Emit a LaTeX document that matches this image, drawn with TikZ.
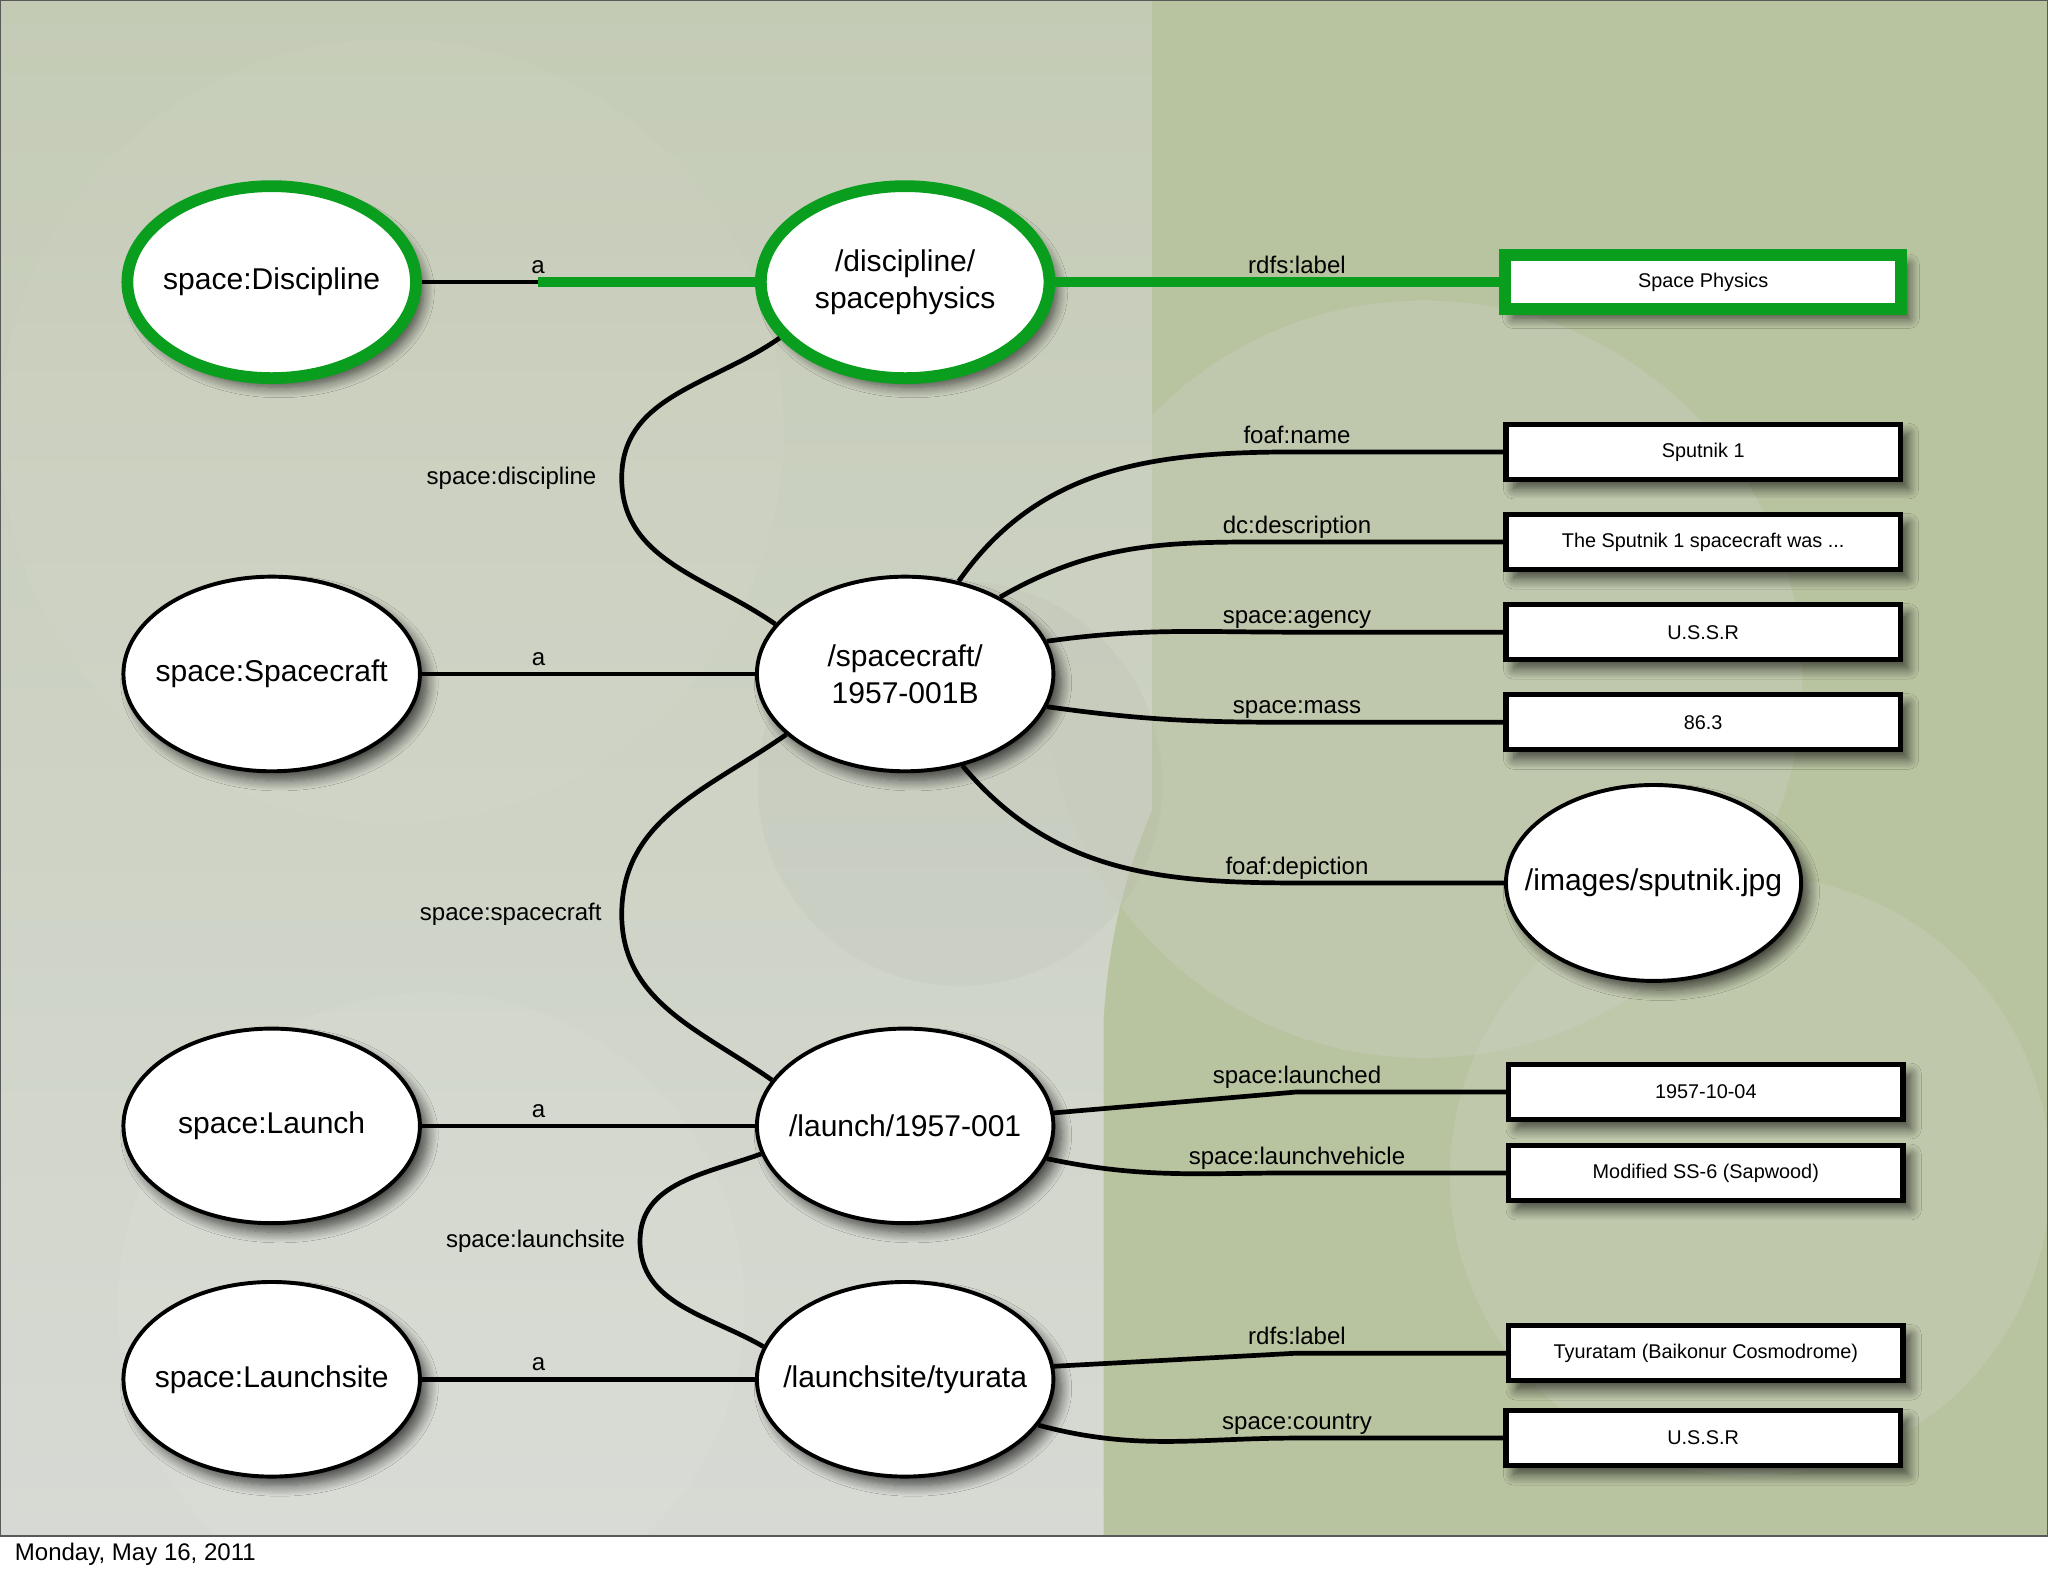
\documentclass[tikz,border=0pt]{standalone}
\usepackage{fontspec}
\setmainfont{Liberation Sans}
\usetikzlibrary{shapes.geometric,shadows.blur}
\definecolor{lodgreen}{RGB}{10,158,30}
\definecolor{bgtop}{RGB}{196,203,181}
\definecolor{bgbot}{RGB}{215,218,212}
\definecolor{bggreen}{RGB}{184,195,160}
\definecolor{bglight}{RGB}{203,208,192}
\definecolor{bglight2}{RGB}{212,215,205}
\begin{document}
\begin{tikzpicture}[x=0.5pt,y=-0.5pt,
  dropshade/.style={blur shadow={shadow xshift=3pt,shadow yshift=-3.5pt,shadow blur radius=4pt,shadow blur steps=10,shadow opacity=65}},
  res/.style={ellipse,draw=black,line width=1.5pt,fill=white,minimum width=113.5pt,minimum height=74.5pt,inner xsep=-30pt,inner ysep=0pt,align=center,font=\fontsize{11.5}{14}\selectfont,dropshade},
  gres/.style={res,draw=lodgreen,line width=4.5pt,minimum width=110.5pt,minimum height=73.5pt},
  lit/.style={rectangle,draw=black,line width=2pt,fill=white,minimum width=151pt,minimum height=21pt,inner sep=0pt,font=\fontsize{7.6}{9}\selectfont,dropshade},
  glit/.style={lit,draw=lodgreen,line width=4.5pt,minimum width=151.5pt,minimum height=20.5pt},
  conn/.style={draw=black,line width=1.8pt},
  gconn/.style={draw=lodgreen,line width=4pt},
  lbl/.style={font=\fontsize{9.2}{11}\selectfont,inner sep=1.5pt},
  toplbl/.style={lbl,anchor=base,yshift=3.3pt},
]
\useasboundingbox (0,0) rectangle (1568,1206.6);
\fill[white] (0,0) rectangle (1568,1206.6);
% background of the slide
\shade[top color=bgtop,bottom color=bgbot] (0,0) rectangle (1568,1176);
\fill[bggreen] (882,0) -- (1568,0) -- (1568,1176) -- (845,1176) -- (845,780) .. controls (850,700) and (870,650) .. (882,620) -- cycle;
\fill[bglight,opacity=0.4] (1090,520) circle (290);
\fill[bglight2,opacity=0.25] (1340,900) circle (230);
\fill[white,opacity=0.04] (300,330) circle (300);
\fill[black,opacity=0.02] (735,600) circle (155);
\fill[white,opacity=0.06] (330,1000) circle (240);
\draw[black!65,line width=1pt] (0,0) rectangle (1568,1176);

% nodes
\node[gres] (disc) at (208,216) {space:Discipline};
\node[gres] (sp) at (693,216) {/discipline/\\spacephysics};
\node[glit] (spl) at (1304,216) {Space Physics};

\node[res] (scls) at (208,516) {space:Spacecraft};
\node[res] (sc) at (693,516) {/spacecraft/\\1957-001B};
\node[lit] (name) at (1304,346) {Sputnik 1};
\node[lit] (desc) at (1304,415) {The Sputnik 1 spacecraft was ...};
\node[lit] (agency) at (1304,484) {U.S.S.R};
\node[lit] (mass) at (1304,553) {86.3};
\node[res,minimum width=113pt,minimum height=75pt] (img) at (1266,676) {/images/sputnik.jpg};

\node[res] (lcls) at (208,862) {space:Launch};
\node[res] (la) at (693,862) {/launch/1957-001};
\node[lit] (ldate) at (1306,836) {1957-10-04};
\node[lit] (lv) at (1306,898) {Modified SS-6 (Sapwood)};

\node[res] (lscls) at (208,1056) {space:Launchsite};
\node[res] (ls) at (693,1056) {/launchsite/tyurata};
\node[lit] (lsl) at (1306,1036) {Tyuratam (Baikonur Cosmodrome)};
\node[lit] (cty) at (1304,1101) {U.S.S.R};

\node[anchor=west,font=\fontsize{9.2}{11}\selectfont,inner sep=0pt] (day) at (11,1190) {Monday, May 16, 2011};

% coordinates
\coordinate (da) at (412,216);
\coordinate (cspl) at (993,216);
\coordinate (kd) at (476,366);
\coordinate (cn) at (993,346);
\coordinate (cd) at (993,415);
\coordinate (cg) at (993,484);
\coordinate (cm) at (993,553);
\coordinate (cp) at (993,676);
\coordinate (ks) at (476,700);
\coordinate (cl) at (993,836);
\coordinate (cv) at (993,898);
\coordinate (kl) at (490,950);
\coordinate (cr) at (993,1036);
\coordinate (cc) at (993,1101);

% edges
\draw[conn] (disc) -- (da);
\draw[gconn] (da) -- (sp);
\node[toplbl] at (da) {a};
\draw[gconn] (sp) -- (spl);
\node[toplbl] at (cspl) {rdfs:label};

\draw[conn] (sp.204) to[out=215,in=90] (kd) to[out=-90,in=145] (sc.159);
\node[lbl,left=8pt] at (kd) {space:discipline};

\draw[conn] (scls) -- node[toplbl,pos=0.35] {a} (sc);
\draw[conn] (sc.60) to[out=55,in=180] (cn) -- (name);
\node[toplbl] at (cn) {foaf:name};
\draw[conn] (sc.39) to[out=30,in=180] (cd) -- (desc);
\node[toplbl] at (cd) {dc:description};
\draw[conn] (sc.13) to[out=8,in=180] (cg) -- (agency);
\node[toplbl] at (cg) {space:agency};
\draw[conn] (sc.-13) to[out=-8,in=180] (cm) -- (mass);
\node[toplbl] at (cm) {space:mass};
\draw[conn] (sc.-58) to[out=-50,in=180] (cp) -- (img);
\node[toplbl] at (cp) {foaf:depiction};

\draw[conn] (sc.207) to[out=215,in=90] (ks) to[out=-90,in=145] (la.161);
\node[lbl,left=6pt] at (ks) {space:spacecraft};

\draw[conn] (lcls) -- node[toplbl,pos=0.35] {a} (la);
\draw[conn] (la.5) -- (cl) -- (ldate);
\node[toplbl] at (cl) {space:launched};
\draw[conn] (la.-13) to[out=-12,in=180] (cv) -- (lv);
\node[toplbl] at (cv) {space:launchvehicle};

\draw[conn] (la.191) to[out=200,in=90] (kl) to[out=-90,in=150] (ls.167.5);
\node[lbl,left=4pt] at (kl) {space:launchsite};

\draw[conn] (lscls) -- node[toplbl,pos=0.35] {a} (ls);
\draw[conn] (ls.5) -- (cr) -- (lsl);
\node[toplbl] at (cr) {rdfs:label};
\draw[conn] (ls.-19) to[out=-15,in=180] (cc) -- (cty);
\node[toplbl] at (cc) {space:country};
\end{tikzpicture}
\end{document}
